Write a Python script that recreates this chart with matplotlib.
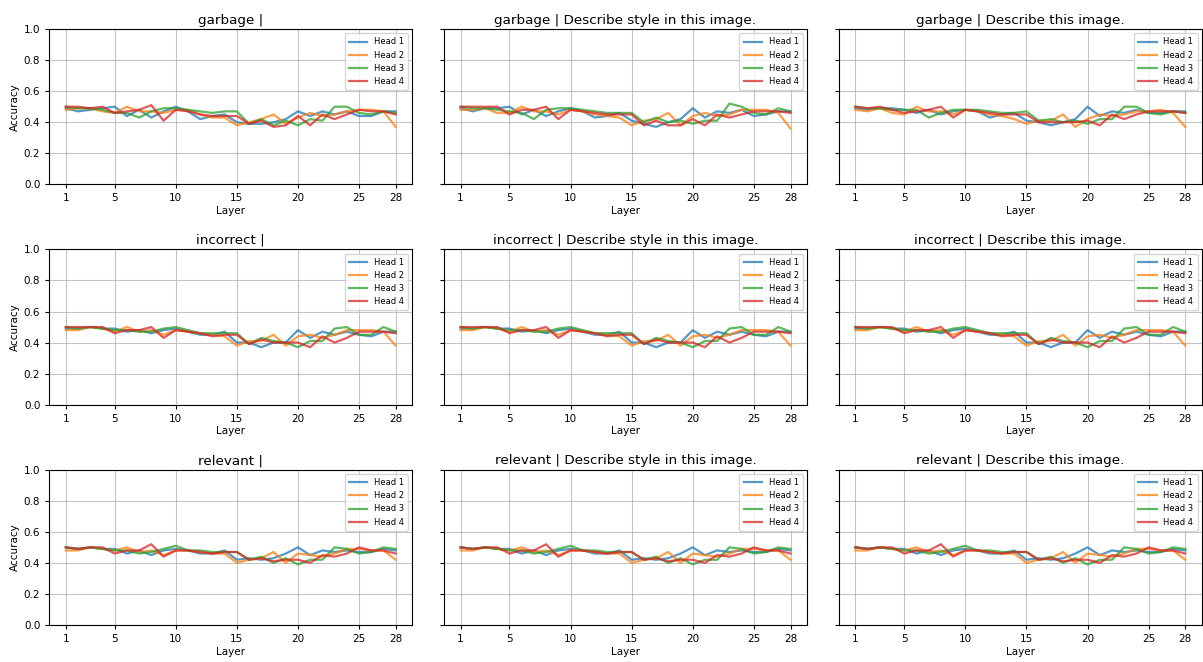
import numpy as np
import matplotlib
matplotlib.use("Agg")
import matplotlib.pyplot as plt

# --------------------------------------------------------------------------- #
# Data
# --------------------------------------------------------------------------- #

layers = list(range(1, 29))
xticks = [1, 5, 10, 15, 20, 25, 28]
heads = ["Head 1", "Head 2", "Head 3", "Head 4"]
row_names = ["garbage", "incorrect", "relevant"]
prompts = ["", "Describe style in this image.", "Describe this image."]

garbage_empty = [
    [0.49, 0.47, 0.48, 0.49, 0.50, 0.44, 0.48, 0.43, 0.47, 0.50, 0.47, 0.42, 0.44, 0.45,
     0.40, 0.39, 0.39, 0.40, 0.42, 0.47, 0.44, 0.47, 0.45, 0.47, 0.44, 0.44, 0.47, 0.47],
    [0.48, 0.49, 0.49, 0.47, 0.46, 0.50, 0.47, 0.47, 0.46, 0.48, 0.48, 0.45, 0.43, 0.43,
     0.38, 0.40, 0.42, 0.45, 0.39, 0.43, 0.46, 0.44, 0.45, 0.47, 0.48, 0.48, 0.47, 0.37],
    [0.50, 0.49, 0.49, 0.48, 0.46, 0.46, 0.43, 0.47, 0.49, 0.49, 0.48, 0.47, 0.46, 0.47,
     0.47, 0.39, 0.42, 0.38, 0.41, 0.38, 0.42, 0.41, 0.50, 0.50, 0.46, 0.45, 0.47, 0.46],
    [0.50, 0.50, 0.49, 0.50, 0.46, 0.47, 0.48, 0.51, 0.41, 0.48, 0.47, 0.45, 0.44, 0.44,
     0.44, 0.39, 0.41, 0.37, 0.38, 0.44, 0.38, 0.45, 0.42, 0.45, 0.48, 0.47, 0.47, 0.45],
]

garbage_style = [
    [0.49, 0.47, 0.49, 0.49, 0.50, 0.45, 0.48, 0.44, 0.47, 0.49, 0.47, 0.43, 0.44, 0.46,
     0.41, 0.39, 0.37, 0.40, 0.42, 0.49, 0.43, 0.47, 0.46, 0.48, 0.44, 0.45, 0.47, 0.47],
    [0.48, 0.48, 0.49, 0.46, 0.46, 0.50, 0.47, 0.47, 0.45, 0.48, 0.47, 0.45, 0.44, 0.43,
     0.38, 0.41, 0.42, 0.46, 0.38, 0.44, 0.46, 0.44, 0.45, 0.48, 0.48, 0.48, 0.46, 0.36],
    [0.50, 0.49, 0.49, 0.48, 0.47, 0.46, 0.42, 0.48, 0.49, 0.49, 0.48, 0.47, 0.46, 0.46,
     0.46, 0.40, 0.43, 0.40, 0.41, 0.39, 0.41, 0.41, 0.52, 0.50, 0.46, 0.45, 0.49, 0.47],
    [0.50, 0.50, 0.50, 0.50, 0.45, 0.48, 0.48, 0.50, 0.42, 0.48, 0.47, 0.46, 0.45, 0.45,
     0.45, 0.38, 0.41, 0.38, 0.38, 0.42, 0.38, 0.45, 0.43, 0.45, 0.47, 0.47, 0.47, 0.46],
]

garbage_describe = [
    [0.49, 0.48, 0.49, 0.49, 0.48, 0.46, 0.48, 0.45, 0.47, 0.48, 0.47, 0.43, 0.45, 0.46,
     0.41, 0.40, 0.38, 0.40, 0.42, 0.50, 0.44, 0.47, 0.46, 0.48, 0.46, 0.46, 0.47, 0.47],
    [0.48, 0.47, 0.49, 0.46, 0.45, 0.50, 0.47, 0.47, 0.45, 0.48, 0.47, 0.45, 0.44, 0.42,
     0.39, 0.41, 0.41, 0.45, 0.37, 0.42, 0.45, 0.44, 0.45, 0.47, 0.47, 0.48, 0.46, 0.37],
    [0.50, 0.49, 0.49, 0.48, 0.48, 0.48, 0.43, 0.46, 0.48, 0.48, 0.48, 0.47, 0.46, 0.46,
     0.47, 0.41, 0.42, 0.40, 0.41, 0.39, 0.42, 0.42, 0.50, 0.50, 0.46, 0.45, 0.47, 0.46],
    [0.50, 0.49, 0.50, 0.48, 0.46, 0.47, 0.48, 0.50, 0.43, 0.48, 0.47, 0.46, 0.45, 0.45,
     0.45, 0.40, 0.40, 0.40, 0.40, 0.41, 0.38, 0.45, 0.42, 0.45, 0.47, 0.47, 0.47, 0.46],
]

# the three "incorrect" panels look the same in the picture
incorrect = [
    [0.49, 0.49, 0.50, 0.49, 0.49, 0.47, 0.48, 0.46, 0.48, 0.49, 0.47, 0.45, 0.45, 0.47,
     0.40, 0.40, 0.37, 0.40, 0.40, 0.48, 0.43, 0.47, 0.45, 0.47, 0.45, 0.44, 0.47, 0.47],
    [0.48, 0.48, 0.50, 0.49, 0.47, 0.50, 0.47, 0.48, 0.45, 0.48, 0.47, 0.46, 0.45, 0.44,
     0.38, 0.41, 0.41, 0.45, 0.38, 0.44, 0.45, 0.43, 0.45, 0.48, 0.48, 0.48, 0.47, 0.38],
    [0.50, 0.49, 0.50, 0.49, 0.48, 0.48, 0.47, 0.47, 0.49, 0.50, 0.48, 0.46, 0.46, 0.46,
     0.46, 0.39, 0.43, 0.41, 0.40, 0.37, 0.41, 0.41, 0.49, 0.50, 0.45, 0.45, 0.50, 0.47],
    [0.50, 0.50, 0.50, 0.50, 0.46, 0.48, 0.48, 0.50, 0.43, 0.48, 0.47, 0.46, 0.44, 0.45,
     0.45, 0.39, 0.42, 0.40, 0.40, 0.40, 0.37, 0.44, 0.40, 0.43, 0.47, 0.47, 0.47, 0.46],
]

# same for the three "relevant" panels
relevant = [
    [0.50, 0.49, 0.50, 0.49, 0.49, 0.46, 0.48, 0.45, 0.48, 0.49, 0.48, 0.46, 0.46, 0.48,
     0.42, 0.43, 0.42, 0.43, 0.46, 0.50, 0.45, 0.48, 0.47, 0.48, 0.47, 0.47, 0.49, 0.48],
    [0.48, 0.48, 0.50, 0.49, 0.48, 0.50, 0.47, 0.48, 0.45, 0.48, 0.48, 0.47, 0.46, 0.46,
     0.40, 0.42, 0.43, 0.47, 0.40, 0.46, 0.45, 0.44, 0.46, 0.49, 0.49, 0.48, 0.48, 0.42],
    [0.50, 0.49, 0.50, 0.49, 0.48, 0.48, 0.46, 0.47, 0.49, 0.51, 0.48, 0.48, 0.47, 0.47,
     0.47, 0.42, 0.44, 0.40, 0.43, 0.39, 0.42, 0.42, 0.50, 0.49, 0.46, 0.47, 0.50, 0.49],
    [0.50, 0.49, 0.50, 0.50, 0.46, 0.48, 0.48, 0.52, 0.44, 0.48, 0.48, 0.47, 0.46, 0.47,
     0.47, 0.42, 0.43, 0.41, 0.42, 0.42, 0.40, 0.45, 0.44, 0.46, 0.50, 0.48, 0.48, 0.46],
]

panels = [
    [garbage_empty, garbage_style, garbage_describe],
    [incorrect, incorrect, incorrect],
    [relevant, relevant, relevant],
]

colors = ["tab:blue", "tab:orange", "tab:green", "tab:red"]

# --------------------------------------------------------------------------- #
# Figure
# --------------------------------------------------------------------------- #

fig, axes = plt.subplots(3, 3, figsize=(12.03, 6.62), dpi=100, sharey=True)
fig.subplots_adjust(left=0.041, right=0.999, top=0.956, bottom=0.056,
                    wspace=0.088, hspace=0.42)

for r in range(3):
    for c in range(3):
        ax = axes[r, c]
        for h in range(4):
            ax.plot(layers, panels[r][c][h], color=colors[h], lw=1.6,
                    alpha=0.75, label=heads[h])
        title = f"{row_names[r]} | {prompts[c]}" if prompts[c] else f"{row_names[r]} |"
        ax.set_title(title, fontsize=9.7, pad=4)
        ax.set_xticks(xticks)
        ax.set_ylim(0.0, 1.0)
        ax.set_yticks(np.arange(0, 1.01, 0.2))
        ax.tick_params(labelsize=7.5, length=3)
        ax.set_xlabel("Layer", fontsize=7.5, labelpad=2)
        if c == 0:
            ax.set_ylabel("Accuracy", fontsize=7.5, labelpad=3)
        ax.grid(True, alpha=0.75)
        ax.legend(loc="upper right", fontsize=6, handlelength=2.2,
                  borderpad=0.5, labelspacing=0.5)

fig.savefig("out.png", dpi=100)
plt.close(fig)
